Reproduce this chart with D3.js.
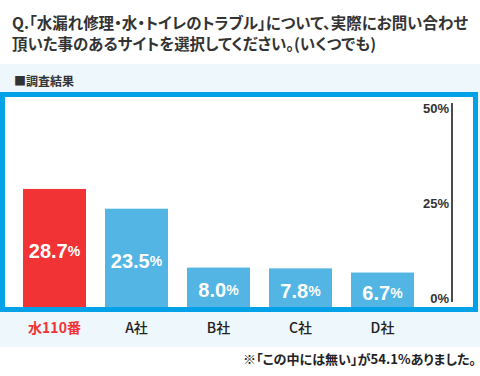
<!DOCTYPE html>
<html><head><meta charset="utf-8">
<script src="https://cdn.jsdelivr.net/npm/d3@7"></script>
<style>
html,body{margin:0;padding:0;background:#fff;}
svg{display:block;}
text{font-family:"Noto Sans CJK JP","Noto Sans",sans-serif;}
.palt{font-feature-settings:"palt" 1;}
</style></head>
<body>
<svg id="chart" width="480" height="376"></svg>
<script>
const categories = ["水110番", "A社", "B社", "C社", "D社"];
const values = [28.7, 23.5, 8.0, 7.8, 6.7];
const tickValues = [0, 25, 50];
const titleLines = ["Q.「水漏れ修理・水・トイレのトラブル」について、実際にお問い合わせ", "頂いた事のあるサイトを選択してください。(いくつでも)"];
const titleWidths = [456, 364];
const sectionLabel = "■調査結果";
const footnote = "※「この中には無い」が54.1%ありました。";

const svg = d3.select("#chart");

// title
svg.selectAll("text.title").data(titleLines).join("text")
  .attr("class","title palt")
  .attr("x", 12).attr("y", (d,i)=>22 + i*21)
  .attr("dominant-baseline","central")
  .attr("textLength", (d,i)=>titleWidths[i]).attr("lengthAdjust","spacingAndGlyphs")
  .attr("font-size", 15.5).attr("font-weight", 700).attr("fill", "#333")
  .text(d=>d);

// light band
svg.append("rect").attr("x",0).attr("y",64).attr("width",480).attr("height",283).attr("fill","#eef7fc");

svg.append("text").attr("x",14).attr("y",80).attr("dominant-baseline","central")
  .attr("font-size",12).attr("font-weight",700).attr("fill","#333").text(sectionLabel);

// box
svg.append("rect").attr("x",2.5).attr("y",94.5).attr("width",473).attr("height",215)
  .attr("fill","#fff").attr("stroke","#03a1e8").attr("stroke-width",5);

const baseline = 307;
const x = d3.scaleBand().domain(categories).range([13.5, 423.5]).paddingInner(0.232).paddingOuter(0.116);
const y = d3.scaleLinear().domain([0, 50]).range([298, 108]);

const data = categories.map((c,i)=>({c, v: values[i], i}));

svg.selectAll("rect.bar").data(data).join("rect")
  .attr("class","bar")
  .attr("x", d=>x(d.c)).attr("width", x.bandwidth())
  .attr("y", d=>y(d.v)).attr("height", d=>baseline - y(d.v))
  .attr("fill", d=>d.i===0 ? "#f13336" : "#52b5e3");

const lab = svg.selectAll("text.val").data(data).join("text")
  .attr("class","val")
  .attr("x", d=>x(d.c) + x.bandwidth()/2)
  .attr("y", d=>(y(d.v) + baseline)/2 + 3)
  .attr("text-anchor","middle").attr("dominant-baseline","central")
  .attr("fill","#fff").attr("font-weight",700)
  .style("font-family","Arial, 'Liberation Sans', sans-serif");
lab.append("tspan").attr("font-size",20).text(d=>d.v.toFixed(1));
lab.append("tspan").attr("font-size",14).text("%");

// category labels
svg.selectAll("text.cat").data(data).join("text")
  .attr("class","cat")
  .attr("x", d=>x(d.c) + x.bandwidth()/2).attr("y", 327)
  .attr("text-anchor","middle").attr("dominant-baseline","central")
  .attr("font-size",14).attr("font-weight", d=>d.i===0?700:500)
  .attr("fill", d=>d.i===0 ? "#f13336" : "#222")
  .text(d=>d.c);

// axis
const axisX = 452;
svg.append("line").attr("x1",axisX).attr("x2",axisX).attr("y1",103).attr("y2",302)
  .attr("stroke","#111").attr("stroke-width",1.5);
const axis = d3.axisLeft(y).tickValues(tickValues).tickSize(0).tickPadding(3).tickFormat(d=>d+"%");
const ag = svg.append("g").attr("transform",`translate(${axisX},0)`).call(axis);
ag.select(".domain").remove();
ag.selectAll("text").attr("font-size",13).attr("font-weight",700).attr("fill","#333")
  .style("font-family","Arial, 'Liberation Sans', sans-serif");

// footnote
svg.append("text").attr("class","palt").attr("x",243).attr("y",358).attr("dominant-baseline","central")
  .attr("textLength",233).attr("lengthAdjust","spacingAndGlyphs")
  .attr("font-size",13).attr("font-weight",700).attr("fill","#222").text(footnote);
</script>
</body></html>
